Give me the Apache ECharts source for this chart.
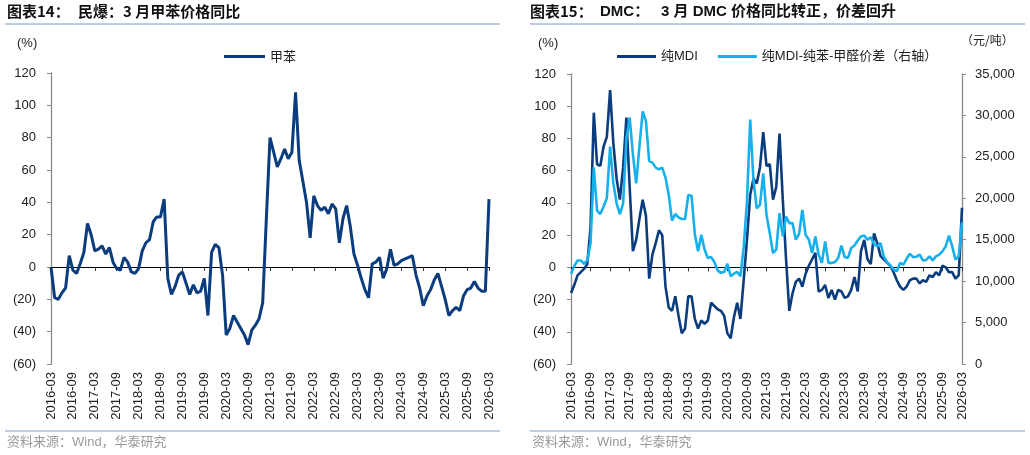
<!DOCTYPE html>
<html>
<head>
<meta charset="utf-8">
<script src="https://cdn.jsdelivr.net/npm/echarts@6/dist/echarts.min.js"></script>
<style>
html,body{margin:0;padding:0;background:#fff;}
#c{width:1030px;height:455px;}
</style>
</head>
<body>
<div id="c"></div>
<script>
// ---- categories (monthly, 2016-03 .. 2026-03) ----
const startYear = 2016, startMonth = 3, monthCount = 121;
const months = [];
for (let i = 0; i < monthCount; i++) {
  const t = (startMonth - 1) + i;
  const y = startYear + Math.floor(t / 12);
  const m = (t % 12) + 1;
  months.push(y + '-' + (m < 10 ? '0' + m : m));
}

// ---- left chart: 甲苯 YoY (%) ----
const tolueneYoY = [
  0,-19,-20,-16,-13,7,-2,-4,2,9,
  27,20,10,11,13,8,12,3,-1,-2,
  6,3,-3,-4,-1,10,15,17,28,31,
  31,42,-7,-17,-12,-5,-3,-10,-17,-11,
  -16,-15,-7,-30,9,14,12,-5,-42,-38,
  -30,-34,-38,-42,-48,-39,-36,-32,-22,30,
  80,71,62,67,73,67,71,108,66,53,
  40,18,44,38,35,37,33,39,36,15,
  30,38,25,8,1,-7,-14,-19,2,3,
  6,-7,-1,11,1,2,4,5,6,7,
  -5,-13,-24,-18,-14,-8,-4,-12,-20,-30,
  -27,-25,-27,-18,-14,-13,-9,-13,-15,-15,
  42
];

// ---- right chart: 纯MDI YoY (%) ----
const mdiYoY = [
  -16,-11,-5,-3,-1,2,25,96,64,63,
  75,81,110,77,55,42,62,93,50,10,
  17,30,42,32,-7,8,15,23,20,-12,
  -25,-27,-18,-30,-41,-38,-18,-18,-32,-38,
  -33,-35,-33,-22,-24,-26,-27,-30,-41,-44,
  -31,-22,-32,-8,17,45,55,52,62,84,
  63,64,42,50,83,42,5,-27,-16,-9,
  -7,-12,-4,1,5,9,-15,-14,-11,-19,
  -14,-20,-14,-15,-19,-18,-14,-6,-15,10,
  17,5,2,21,15,7,5,3,1,-3,
  -8,-12,-14,-12,-8,-7,-7,-10,-8,-9,
  -5,-6,-3,-5,1,0,-3,-3,-7,-5,
  37
];

// ---- right chart: 纯MDI-纯苯-甲醛价差 (元/吨, right axis) ----
const mdiSpread = [
  10900,11800,12500,12500,12100,12500,14600,23700,18500,18100,
  19000,20000,26250,21800,19400,18100,19400,27200,29750,25300,
  21800,26250,30500,29300,24500,24300,23700,23500,23700,22500,
  20400,17300,18100,17700,17500,17500,20400,20300,15700,13600,
  15600,13800,12800,12900,12300,11300,11000,11100,12100,10600,
  10900,11100,10600,14100,19600,29500,22200,18800,19200,23000,
  18000,15800,13400,13800,18200,15400,17800,17000,17000,15000,
  15700,18600,15600,15000,13400,15400,13200,12200,14800,12200,
  12200,12300,12800,14300,12900,12800,14000,14300,14900,15400,
  15500,15000,15300,14500,14200,14600,13000,12300,11900,11400,
  11200,12200,12000,12700,13300,12900,12950,13200,12500,12550,
  13000,12500,13000,13200,13600,14200,15500,14200,12600,13000,
  17100
];

// ---- axis ticks ----
const pctTicks = {min: -60, max: 120, interval: 20};
const spreadTicks = {min: 0, max: 35000, interval: 5000};

const DARK = '#0b3c7d';
const LIGHT = '#16b1ec';
const FONT = '"Liberation Sans", "Noto Sans CJK SC", sans-serif';
const CJK = '"Noto Sans CJK SC", sans-serif';

const pctFmt = v => v < 0 ? '(' + (-v) + ')' : String(v);
const thouFmt = v => String(v).replace(/\B(?=(\d{3})+(?!\d))/g, ',');

function zeroAxis(grid) {
  return {
    type: 'category', gridIndex: grid, data: months, boundaryGap: false,
    axisLine: {onZero: true, onZeroAxisIndex: grid === 0 ? 0 : 1, lineStyle: {color: '#000', width: 1}},
    axisTick: {show: true, interval: 5, length: 4, lineStyle: {color: '#333'}},
    axisLabel: {show: false}, splitLine: {show: false}
  };
}
function labelAxis(grid) {
  return {
    type: 'category', gridIndex: grid, data: months, boundaryGap: false, position: 'bottom',
    axisLine: {show: false, onZero: false}, axisTick: {show: false},
    axisLabel: {interval: 5, rotate: 90, margin: 8, fontSize: 13, color: '#222', fontFamily: FONT},
    splitLine: {show: false}
  };
}
function pctAxis(grid) {
  return {
    type: 'value', gridIndex: grid, min: pctTicks.min, max: pctTicks.max, interval: pctTicks.interval,
    axisLine: {show: true, lineStyle: {color: '#8a8a8a', width: 1.3}},
    axisTick: {show: true, length: 4, lineStyle: {color: '#8a8a8a'}},
    axisLabel: {formatter: pctFmt, fontSize: 13, color: '#222', margin: 15, fontFamily: FONT},
    splitLine: {show: false}
  };
}

const option = {
  animation: false,
  backgroundColor: '#fff',
  grid: [
    {left: 51, top: 73, width: 438, height: 291},
    {left: 571, top: 74, width: 391, height: 290}
  ],
  xAxis: [zeroAxis(0), labelAxis(0), zeroAxis(1), labelAxis(1)],
  yAxis: [
    pctAxis(0),
    pctAxis(1),
    {
      type: 'value', gridIndex: 1, position: 'right',
      min: spreadTicks.min, max: spreadTicks.max, interval: spreadTicks.interval,
      axisLine: {show: true, lineStyle: {color: '#8a8a8a', width: 1.3}},
      axisTick: {show: true, length: 4, lineStyle: {color: '#8a8a8a'}},
      axisLabel: {formatter: thouFmt, fontSize: 13, color: '#222', margin: 13, fontFamily: FONT},
      splitLine: {show: false}
    }
  ],
  legend: [
    {
      data: ['甲苯'], left: 219, top: 45, icon: 'rect', itemWidth: 41, itemHeight: 3, itemGap: 20,
      textStyle: {fontSize: 13, color: '#222', fontFamily: CJK}
    },
    {
      data: ['纯MDI', '纯MDI-纯苯-甲醛价差（右轴）'], left: 612, top: 45, icon: 'rect',
      itemWidth: 39, itemHeight: 3, itemGap: 20,
      textStyle: {fontSize: 13, color: '#222', fontFamily: FONT}
    }
  ],
  series: [
    {
      name: '甲苯', type: 'line', xAxisIndex: 0, yAxisIndex: 0, data: tolueneYoY,
      showSymbol: false, symbol: 'none', color: DARK, lineStyle: {width: 3, color: DARK}
    },
    {
      name: '纯MDI', type: 'line', xAxisIndex: 2, yAxisIndex: 1, data: mdiYoY,
      showSymbol: false, symbol: 'none', color: DARK, lineStyle: {width: 2.6, color: DARK}
    },
    {
      name: '纯MDI-纯苯-甲醛价差（右轴）', type: 'line', xAxisIndex: 2, yAxisIndex: 2, data: mdiSpread,
      showSymbol: false, symbol: 'none', color: LIGHT, lineStyle: {width: 2.6, color: LIGHT}
    }
  ],
  graphic: [
    {type: 'text', left: 7, top: 4, style: {text: '图表14：', font: 'bold 15px ' + CJK, fill: '#111'}},
    {type: 'text', left: 78, top: 4, style: {text: '民爆：3 月甲苯价格同比', font: 'bold 15px ' + CJK, fill: '#111'}},
    {type: 'text', left: 530, top: 4, style: {text: '图表15：', font: 'bold 15px ' + CJK, fill: '#111'}},
    {type: 'text', left: 600, top: 4, style: {text: 'DMC：', font: 'bold 15px ' + FONT, fill: '#111'}},
    {type: 'text', left: 661, top: 4, style: {text: '3 月 DMC 价格同比转正，价差回升', font: 'bold 15px ' + FONT, fill: '#111'}},
    {type: 'line', shape: {x1: 5, y1: 24, x2: 500, y2: 24}, style: {stroke: '#a9bdd6', lineWidth: 1.5}},
    {type: 'line', shape: {x1: 530, y1: 24, x2: 1025, y2: 24}, style: {stroke: '#a9bdd6', lineWidth: 1.5}},
    {type: 'line', shape: {x1: 5, y1: 431, x2: 500, y2: 431}, style: {stroke: '#a9bdd6', lineWidth: 1.5}},
    {type: 'line', shape: {x1: 530, y1: 431, x2: 1025, y2: 431}, style: {stroke: '#a9bdd6', lineWidth: 1.5}},
    {type: 'text', left: 17, top: 37, style: {text: '(%)', font: '13px ' + FONT, fill: '#222'}},
    {type: 'text', left: 538, top: 37, style: {text: '(%)', font: '13px ' + FONT, fill: '#222'}},
    {type: 'text', left: 961, top: 34, style: {text: '（元/吨）', font: '12px ' + CJK, fill: '#222'}},
    {type: 'text', left: 7, top: 436, style: {text: '资料来源：Wind，华泰研究', font: '13px ' + FONT, fill: '#9a9a9a'}},
    {type: 'text', left: 532, top: 436, style: {text: '资料来源：Wind，华泰研究', font: '13px ' + FONT, fill: '#9a9a9a'}}
  ]
};

const chart = echarts.init(document.getElementById('c'), null, {renderer: 'canvas'});
chart.setOption(option);
</script>
</body>
</html>
